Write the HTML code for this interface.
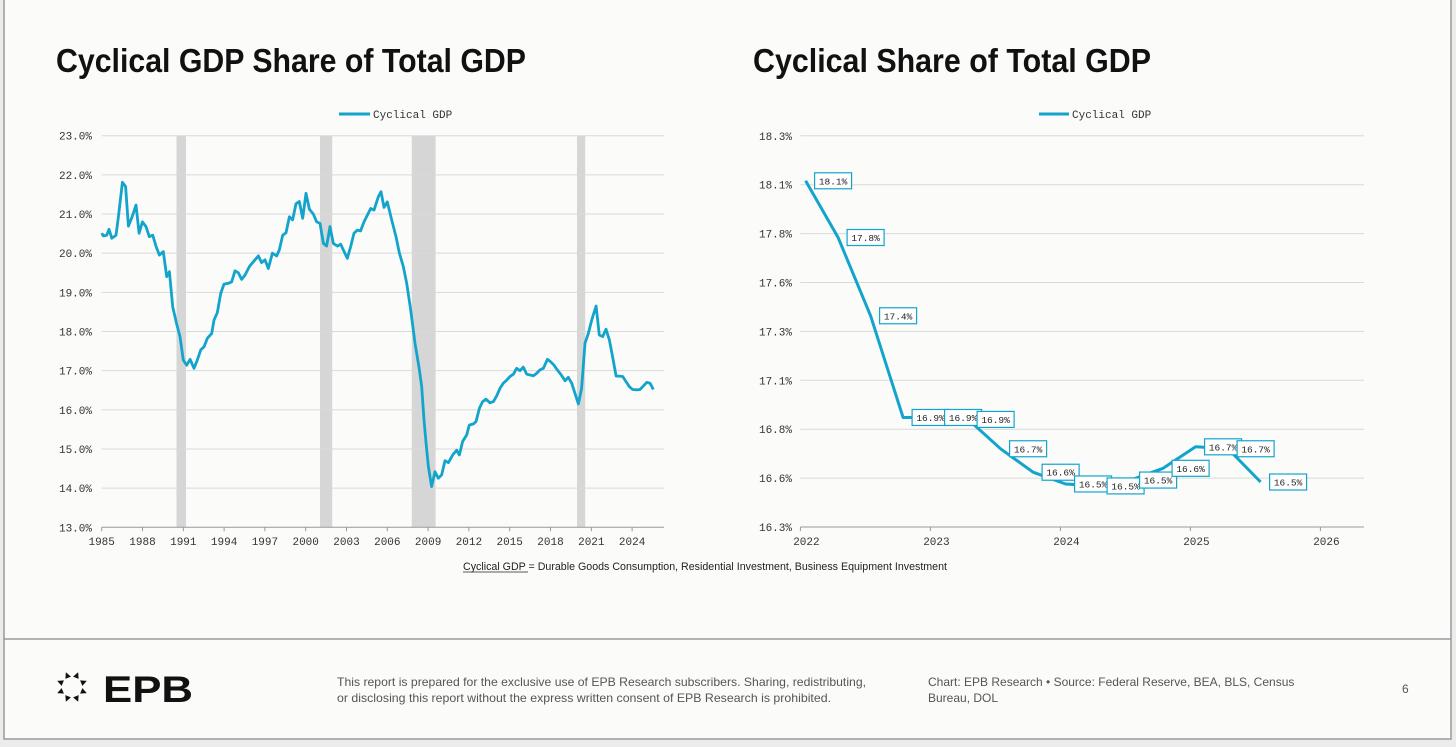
<!DOCTYPE html>
<html><head><meta charset="utf-8"><style>
html,body{margin:0;padding:0;background:#fbfbf9;}
svg{display:block;}
.mono{font-family:"Liberation Mono",monospace;}
.sans{font-family:"Liberation Sans",sans-serif;}
</style></head><body>
<svg id="page" width="1456" height="747" viewBox="0 0 1456 747" xmlns="http://www.w3.org/2000/svg">
<rect x="0" y="0" width="1456" height="747" fill="#ececec"/>
<rect x="4" y="-2" width="1447" height="741" fill="#fbfbf9" stroke="#9a9a9a" stroke-width="1.5"/>
<line x1="4" y1="639" x2="1451" y2="639" stroke="#9a9a9a" stroke-width="1.5"/>
<text x="56" y="72" class="sans" font-size="33" font-weight="bold" fill="#111" textLength="470" lengthAdjust="spacingAndGlyphs">Cyclical GDP Share of Total GDP</text>
<text x="753" y="72" class="sans" font-size="33" font-weight="bold" fill="#111" textLength="398" lengthAdjust="spacingAndGlyphs">Cyclical Share of Total GDP</text>
<g id="left"></g>
<g id="right"></g>
<text x="463" y="570" class="sans" font-size="11" fill="#222" textLength="484" lengthAdjust="spacingAndGlyphs">Cyclical GDP = Durable Goods Consumption, Residential Investment, Business Equipment Investment</text>
<line x1="463" y1="572" x2="528" y2="572" stroke="#222" stroke-width="0.8"/>
<g id="logo"></g>
<text x="103" y="702" class="sans" font-size="37" font-weight="bold" fill="#111" textLength="90" lengthAdjust="spacingAndGlyphs">EPB</text>
<text class="sans" font-size="12" fill="#555"><tspan x="337" y="686" textLength="529" lengthAdjust="spacingAndGlyphs">This report is prepared for the exclusive use of EPB Research subscribers. Sharing, redistributing,</tspan><tspan x="337" y="702" textLength="494" lengthAdjust="spacingAndGlyphs">or disclosing this report without the express written consent of EPB Research is prohibited.</tspan></text>
<text class="sans" font-size="12" fill="#555"><tspan x="928" y="686">Chart: EPB Research  •  Source: Federal Reserve, BEA, BLS, Census</tspan><tspan x="928" y="702">Bureau, DOL</tspan></text>
<text x="1402" y="693" class="sans" font-size="12" fill="#555">6</text>
</svg>
<script>
const NS='http://www.w3.org/2000/svg';
const LINE='#13a4cc';
// ---- left chart data ----
const leftYears=[1985.00,1985.12,1985.37,1985.54,1985.74,1986.05,1986.23,1986.52,1986.76,1986.96,1987.28,1987.52,1987.75,1987.99,1988.26,1988.50,1988.75,1989.00,1989.24,1989.53,1989.78,1989.98,1990.22,1990.51,1990.76,1991.00,1991.25,1991.50,1991.79,1992.03,1992.28,1992.52,1992.77,1993.09,1993.26,1993.50,1993.75,1993.99,1994.31,1994.56,1994.80,1995.05,1995.29,1995.54,1995.86,1996.15,1996.52,1996.76,1997.01,1997.25,1997.55,1997.87,1998.06,1998.31,1998.55,1998.80,1999.04,1999.29,1999.53,1999.78,2000.02,2000.27,2000.56,2000.81,2001.05,2001.30,2001.54,2001.79,2002.03,2002.33,2002.57,2002.82,2003.06,2003.31,2003.55,2003.80,2004.04,2004.29,2004.53,2004.78,2005.02,2005.34,2005.54,2005.76,2006.00,2006.32,2006.64,2006.89,2007.18,2007.43,2007.72,2008.04,2008.36,2008.53,2008.70,2008.85,2009.02,2009.26,2009.51,2009.75,2010.00,2010.24,2010.49,2010.81,2011.10,2011.30,2011.54,2011.84,2012.03,2012.33,2012.52,2012.77,2013.01,2013.26,2013.55,2013.80,2014.04,2014.29,2014.53,2014.78,2015.02,2015.27,2015.51,2015.76,2016.00,2016.25,2016.49,2016.74,2016.98,2017.23,2017.48,2017.77,2018.01,2018.26,2018.50,2018.75,2019.07,2019.31,2019.56,2019.80,2020.05,2020.29,2020.54,2020.78,2021.03,2021.35,2021.59,2021.84,2022.08,2022.33,2022.57,2022.82,2023.06,2023.31,2023.55,2023.80,2024.04,2024.34,2024.58,2024.83,2025.07,2025.32,2025.56];
const leftValues=[20.51,20.44,20.46,20.61,20.38,20.46,20.93,21.81,21.70,20.69,20.97,21.23,20.51,20.80,20.68,20.42,20.46,20.17,19.95,20.04,19.40,19.53,18.63,18.20,17.87,17.27,17.14,17.29,17.06,17.27,17.53,17.61,17.83,17.95,18.29,18.48,18.97,19.21,19.23,19.27,19.55,19.50,19.33,19.44,19.66,19.78,19.93,19.76,19.83,19.61,20.00,19.93,20.08,20.46,20.52,20.93,20.85,21.26,21.32,20.89,21.53,21.12,21.00,20.80,20.76,20.25,20.18,20.68,20.25,20.18,20.23,20.04,19.87,20.17,20.51,20.59,20.57,20.80,20.97,21.14,21.10,21.44,21.57,21.17,21.31,20.85,20.42,20.00,19.66,19.23,18.55,17.70,17.02,16.59,15.74,15.14,14.55,14.04,14.42,14.25,14.34,14.70,14.65,14.85,14.97,14.85,15.19,15.36,15.61,15.64,15.70,16.04,16.21,16.27,16.18,16.21,16.35,16.55,16.68,16.76,16.85,16.91,17.06,17.00,17.09,16.91,16.89,16.87,16.93,17.02,17.06,17.29,17.23,17.14,17.02,16.91,16.74,16.83,16.68,16.42,16.15,16.55,17.70,17.95,18.29,18.65,17.91,17.87,18.06,17.78,17.34,16.86,16.86,16.85,16.72,16.59,16.52,16.51,16.52,16.61,16.70,16.68,16.52];
const recessionStarts=[1990.5,2001.05,2007.8,2019.95];
const recessionEnds=[1991.2,2001.95,2009.55,2020.55];
const leftYTicks=[13,14,15,16,17,18,19,20,21,22,23];
const leftXTicks=[1985,1988,1991,1994,1997,2000,2003,2006,2009,2012,2015,2018,2021,2024];
// ---- right chart data ----
const rightDates=[2022.04,2022.29,2022.54,2022.79,2023.04,2023.29,2023.54,2023.79,2024.04,2024.29,2024.54,2024.79,2025.04,2025.29,2025.54];
const rightValues=[18.07,17.78,17.38,16.86,16.86,16.85,16.70,16.58,16.52,16.51,16.54,16.60,16.71,16.70,16.53];
const rightLabels=['18.1%','17.8%','17.4%','16.9%','16.9%','16.9%','16.7%','16.6%','16.5%','16.5%','16.5%','16.6%','16.7%','16.7%','16.5%'];
const rightYTicks=[16.3,16.55,16.8,17.05,17.3,17.55,17.8,18.05,18.3];
const rightXTicks=[2022,2023,2024,2025,2026];

function mk(tag,attrs,parent){const e=document.createElementNS(NS,tag);for(const k in attrs)e.setAttribute(k,attrs[k]);parent.appendChild(e);return e;}

const L=document.getElementById('left');
const lx=y=>101.7+(y-1985)*13.6;
const ly=v=>527.3-(v-13)*39.16;
for(let i=0;i<recessionStarts.length;i++){
  const r=mk('rect',{x:lx(recessionStarts[i]),y:ly(23),width:lx(recessionEnds[i])-lx(recessionStarts[i]),height:ly(13)-ly(23),fill:'#d6d6d6'},L);
  
  
}
leftYTicks.forEach(t=>{
  if(t>13){const g=mk('line',{x1:101.7,x2:664,y1:ly(t),y2:ly(t),stroke:'#d9d9d9','stroke-width':1},L);
  
  }
  const tx=mk('text',{x:92,y:ly(t)+4,'text-anchor':'end','font-size':11,fill:'#333',class:'mono'},L);
  tx.textContent=t.toFixed(1)+'%';
  
  
});
const lax=mk('line',{x1:101.7,x2:664,y1:ly(13),y2:ly(13),stroke:'#999','stroke-width':1},L);


leftXTicks.forEach(t=>{
  const tk=mk('line',{x1:lx(t),x2:lx(t),y1:ly(13),y2:ly(13)+4,stroke:'#999'},L);
  
  
  const tx=mk('text',{x:lx(t),y:545,'text-anchor':'middle','font-size':11,fill:'#333',class:'mono'},L);
  tx.textContent=t;
  
  
});
const lp=mk('polyline',{points:leftYears.map((y,i)=>lx(y).toFixed(1)+','+ly(leftValues[i]).toFixed(1)).join(' '),fill:'none',stroke:LINE,'stroke-width':2.8,'stroke-linejoin':'round'},L);


const ll=mk('line',{x1:339,x2:370,y1:114,y2:114,stroke:LINE,'stroke-width':3},L);


const lt=mk('text',{x:373,y:118,'font-size':11,fill:'#333',class:'mono'},L);
lt.textContent='Cyclical GDP';



const R=document.getElementById('right');
const rx=d=>800.4+(d-2022)*130;
const ry=v=>527-(v-16.3)/0.25*48.9;
rightYTicks.forEach(t=>{
  if(t>16.3){const g=mk('line',{x1:800.4,x2:1364,y1:ry(t),y2:ry(t),stroke:'#d9d9d9','stroke-width':1},R);
  
  }
  const tx=mk('text',{x:792,y:ry(t)+4,'text-anchor':'end','font-size':11,fill:'#333',class:'mono'},R);
  tx.textContent=t.toFixed(1)+'%';
  
  
});
const rax=mk('line',{x1:800.4,x2:1364,y1:ry(16.3),y2:ry(16.3),stroke:'#999'},R);


rightXTicks.forEach(t=>{
  const tk=mk('line',{x1:rx(t),x2:rx(t),y1:527,y2:531,stroke:'#999'},R);
  
  
  const tx=mk('text',{x:rx(t)+6,y:545,'text-anchor':'middle','font-size':11,fill:'#333',class:'mono'},R);
  tx.textContent=t;
  
  
});
const rp=mk('polyline',{points:rightDates.map((d,i)=>rx(d).toFixed(1)+','+ry(rightValues[i]).toFixed(1)).join(' '),fill:'none',stroke:LINE,'stroke-width':3,'stroke-linejoin':'round'},R);


rightDates.forEach((d,i)=>{
  const bx=rx(d)+9, by=ry(rightValues[i])-8;
  const b=mk('rect',{x:bx,y:by,width:37,height:16,fill:'#fff',stroke:LINE,'stroke-width':1.2},R);
  
  
  const t=mk('text',{x:bx+18.5,y:by+11.5,'text-anchor':'middle','font-size':9.5,fill:'#222',class:'mono'},R);
  t.textContent=rightLabels[i];
  
  
});
const rl=mk('line',{x1:1039,x2:1069,y1:114,y2:114,stroke:LINE,'stroke-width':3},R);


const rt=mk('text',{x:1072,y:118,'font-size':11,fill:'#333',class:'mono'},R);
rt.textContent='Cyclical GDP';



const G=document.getElementById('logo');
for(let k=0;k<8;k++){
  const a=(k*45+22.5)*Math.PI/180, cx=72+13*Math.sin(a), cy=687-13*Math.cos(a);
  const p=mk('polygon',{points:'-3,-3 3,-3 0,3',fill:'#111',transform:'translate('+cx.toFixed(1)+','+cy.toFixed(1)+') rotate('+(k*45+22.5+180)+')'},G);
  
  
}
</script>
</body></html>
